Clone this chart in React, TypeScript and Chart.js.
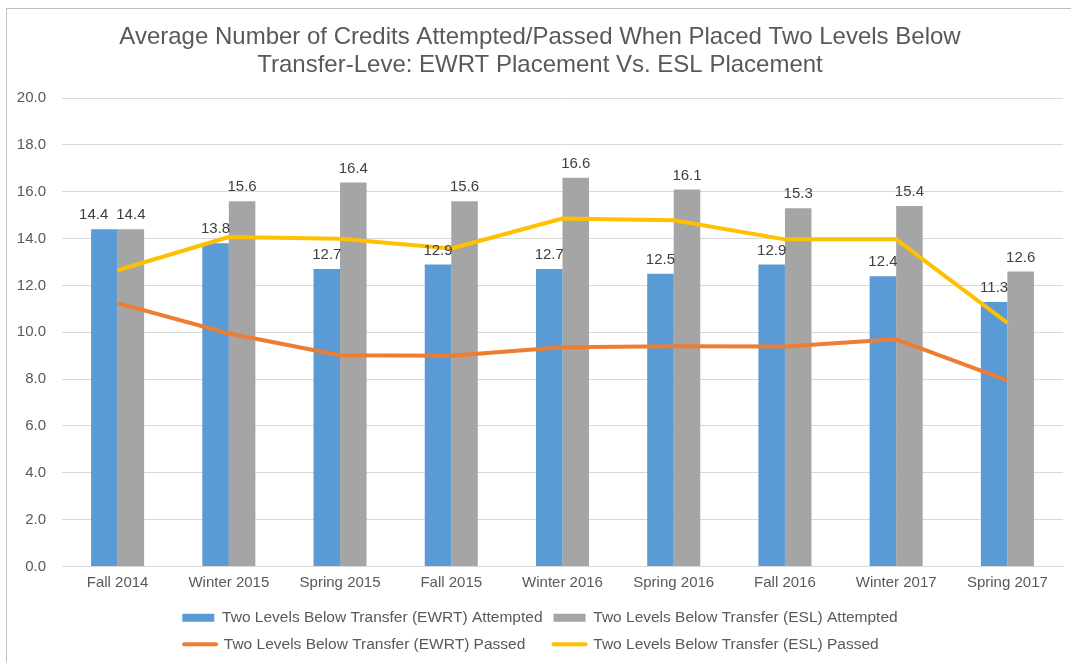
import React, { useEffect, useRef } from "react";
import { Chart, registerables } from "chart.js";

Chart.register(...registerables);

const categories = [
  "Fall 2014", "Winter 2015", "Spring 2015", "Fall 2015", "Winter 2016",
  "Spring 2016", "Fall 2016", "Winter 2017", "Spring 2017",
];
const ewrtAttempted = [14.4, 13.8, 12.7, 12.9, 12.7, 12.5, 12.9, 12.4, 11.3];
const eslAttempted = [14.4, 15.6, 16.4, 15.6, 16.6, 16.1, 15.3, 15.4, 12.6];
const ewrtPassed = [11.25, 9.95, 9.02, 9.0, 9.36, 9.41, 9.4, 9.7, 7.95];
const eslPassed = [12.65, 14.07, 14.0, 13.58, 14.86, 14.79, 13.97, 13.97, 10.4];
const titleLines = [
  "Average Number of Credits Attempted/Passed When Placed Two Levels Below",
  "Transfer-Leve: EWRT Placement Vs. ESL Placement",
];
const seriesLabels = [
  "Two Levels Below Transfer (EWRT) Attempted",
  "Two Levels Below Transfer (ESL) Attempted",
  "Two Levels Below Transfer (EWRT) Passed",
  "Two Levels Below Transfer (ESL) Passed",
];

const FONT = '"Liberation Sans", Arial, sans-serif';
const TEXT = "#595959";
const LEGEND_SIZE = 15.5;

const barLabelPlugin = {
  id: "barLabels",
  afterDatasetsDraw(chart: any) {
    const ctx = chart.ctx;
    ctx.save();
    ctx.font = `15px ${FONT}`;
    ctx.fillStyle = "#404040";
    ctx.textAlign = "center";
    ctx.textBaseline = "middle";
    const m0 = chart.getDatasetMeta(0);
    const m1 = chart.getDatasetMeta(1);
    const d0 = chart.data.datasets[0].data;
    const d1 = chart.data.datasets[1].data;
    for (let i = 0; i < d0.length; i++) {
      const b0 = m0.data[i];
      const b1 = m1.data[i];
      const t0 = d0[i].toFixed(1);
      const t1 = d1[i].toFixed(1);
      const w0 = ctx.measureText(t0).width;
      const w1 = ctx.measureText(t1).width;
      let x0 = b0.x;
      const x1 = b1.x;
      const y0 = b0.y - 14;
      const y1 = b1.y - 14;
      if (Math.abs(y0 - y1) < 16) {
        const overlap = x0 + w0 / 2 + 8 - (x1 - w1 / 2);
        if (overlap > 0) x0 -= overlap;
      }
      ctx.fillText(t0, x0, y0);
      ctx.fillText(t1, x1, y1);
    }
    ctx.restore();
  },
};

export default function App() {
  const ref = useRef<HTMLCanvasElement>(null);
  useEffect(() => {
    if (!ref.current) return;
    const chart = new Chart(ref.current, {
      type: "bar",
      data: {
        labels: categories,
        datasets: [
          {
            type: "bar",
            label: seriesLabels[0],
            data: ewrtAttempted,
            backgroundColor: "#5B9BD5",
            order: 2,
          },
          {
            type: "bar",
            label: seriesLabels[1],
            data: eslAttempted,
            backgroundColor: "#A5A5A5",
            order: 2,
          },
          {
            type: "line",
            label: seriesLabels[2],
            data: ewrtPassed,
            borderColor: "#ED7D31",
            backgroundColor: "#ED7D31",
            borderWidth: 4,
            borderJoinStyle: "round",
            pointRadius: 0,
            tension: 0,
            order: 1,
          },
          {
            type: "line",
            label: seriesLabels[3],
            data: eslPassed,
            borderColor: "#FFC000",
            backgroundColor: "#FFC000",
            borderWidth: 4,
            borderJoinStyle: "round",
            pointRadius: 0,
            tension: 0,
            order: 1,
          },
        ] as any,
      },
      options: {
        animation: false,
        responsive: false,
        maintainAspectRatio: false,
        datasets: {
          bar: { categoryPercentage: 0.477, barPercentage: 1 },
        } as any,
        layout: { padding: { left: 17, right: 8, top: 0, bottom: 0 } },
        scales: {
          x: {
            grid: { display: false, drawTicks: false },
            border: { display: true, color: "#D9D9D9", width: 1 },
            ticks: {
              color: TEXT,
              font: { size: 15, family: FONT, lineHeight: 0.7 },
              padding: 11,
            },
          },
          y: {
            min: 0,
            max: 20,
            afterFit: (scale: any) => {
              scale.width = 45;
            },
            grid: { color: "#D9D9D9", drawTicks: false, lineWidth: 1 },
            border: { display: false },
            ticks: {
              stepSize: 2,
              color: TEXT,
              font: { size: 15, family: FONT },
              padding: 16,
              callback: (v: any) => Number(v).toFixed(1),
            },
          },
        },
        plugins: {
          tooltip: { enabled: false },
          title: {
            display: true,
            text: titleLines,
            color: TEXT,
            font: { size: 24, family: FONT, weight: "normal", lineHeight: 1.17 },
            padding: { top: 23, bottom: 19 },
          },
          legend: {
            position: "bottom",
            labels: {
              usePointStyle: true,
              pointStyleWidth: 32,
              boxHeight: 8,
              padding: 11,
              color: TEXT,
              font: { size: LEGEND_SIZE, family: FONT },
              generateLabels: (ch: any) => {
                const c = ch.ctx;
                c.save();
                c.font = `${LEGEND_SIZE}px ${FONT}`;
                const widths = ch.data.datasets.map((d: any) => c.measureText(d.label).width);
                const sp = c.measureText("\u00a0").width;
                c.restore();
                return ch.data.datasets.map((d: any, i: number) => {
                  const isLine = d.type === "line";
                  let text = d.label;
                  if (i >= 2) {
                    const diff = widths[i - 2] - widths[i];
                    const n = Math.max(0, Math.round(diff / sp));
                    text = text + "\u00a0".repeat(n);
                  }
                  return {
                    text,
                    fillStyle: isLine ? d.borderColor : d.backgroundColor,
                    strokeStyle: isLine ? d.borderColor : d.backgroundColor,
                    lineWidth: isLine ? 4 : 0,
                    lineCap: "round",
                    pointStyle: isLine ? "line" : "rect",
                    fontColor: TEXT,
                    hidden: false,
                    datasetIndex: i,
                  };
                });
              },
            },
          },
        },
      },
      plugins: [barLabelPlugin],
    });
    return () => chart.destroy();
  }, []);

  return (
    <div
      style={{
        position: "fixed",
        left: 0,
        top: 0,
        width: 1071,
        height: 662,
        overflow: "hidden",
        background: "#fff",
      }}
    >
      <div
        style={{
          position: "absolute",
          left: 6,
          top: 8,
          width: 1100,
          height: 700,
          border: "1.5px solid #BFBFBF",
        }}
      />
      <canvas
        ref={ref}
        width={1071}
        height={662}
        style={{ position: "absolute", left: 0, top: 0, width: 1071, height: 662 }}
      />
    </div>
  );
}
